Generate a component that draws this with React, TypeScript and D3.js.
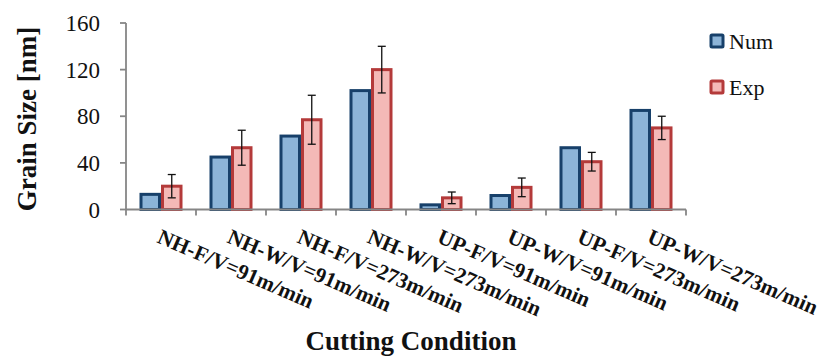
import React from 'react';
import * as d3 from 'd3';

const categories = [
  'NH-F/V=91m/min',
  'NH-W/V=91m/min',
  'NH-F/V=273m/min',
  'NH-W/V=273m/min',
  'UP-F/V=91m/min',
  'UP-W/V=91m/min',
  'UP-F/V=273m/min',
  'UP-W/V=273m/min'
];
const numValues = [13, 45, 63, 102, 4, 12, 53, 85];
const expValues = [20, 53, 77, 120, 10, 19, 41, 70];
const expErrors = [10, 15, 21, 20, 5, 8, 8, 10];
const yTicks = [0, 40, 80, 120, 160];
const seriesNames = ['Num', 'Exp'];

const WIDTH = 823;
const HEIGHT = 360;
const PLOT = { left: 126, right: 686, top: 23, bottom: 209.5 };
const COLORS = {
  Num: { fill: '#8cb4d8', stroke: '#17406a' },
  Exp: { fill: '#f4b9b7', stroke: '#b43a3a' }
};
const AXIS_COLOR = '#868686';
const FONT = '"Liberation Serif", "DejaVu Serif", serif';

export default function App() {
  const x0 = d3.scaleBand().domain(categories).range([PLOT.left, PLOT.right]).padding(0);
  const y = d3.scaleLinear().domain([0, 160]).range([PLOT.bottom, PLOT.top]);
  const pairWidth = 43;
  const x1 = d3.scaleBand().domain(seriesNames).range([0, pairWidth]).padding(0);
  const boundaries = [...categories.map(c => x0(c)), PLOT.right];

  const bars = categories.map((c, i) => {
    const left = x0(c) + x0.bandwidth() / 2 - pairWidth / 2;
    const vals = [numValues[i], expValues[i]];
    return (
      <g key={c} transform={`translate(${left},0)`}>
        {seriesNames.map((s, j) => (
          <rect
            key={s}
            x={x1(s) + 1.5}
            y={y(vals[j])}
            width={x1.bandwidth() - 3}
            height={y(0) - y(vals[j])}
            fill={COLORS[s].fill}
            stroke={COLORS[s].stroke}
            strokeWidth={3}
          />
        ))}
      </g>
    );
  });

  const errorBars = categories.map((c, i) => {
    const cx = x0(c) + x0.bandwidth() / 2 - pairWidth / 2 + x1('Exp') + x1.bandwidth() / 2;
    const hi = y(expValues[i] + expErrors[i]);
    const lo = y(expValues[i] - expErrors[i]);
    return (
      <g key={c} stroke="#111" strokeWidth={1.3}>
        <line x1={cx} x2={cx} y1={hi} y2={lo} />
        <line x1={cx - 4} x2={cx + 4} y1={hi} y2={hi} />
        <line x1={cx - 4} x2={cx + 4} y1={lo} y2={lo} />
      </g>
    );
  });

  return (
    <svg width={WIDTH} height={HEIGHT} style={{ position: 'absolute', left: 0, top: 0, background: '#fff' }}>
      {bars}
      {errorBars}
      <g stroke={AXIS_COLOR} strokeWidth={1.8}>
        <line x1={PLOT.left} x2={PLOT.left} y1={PLOT.top} y2={PLOT.bottom} />
        <line x1={PLOT.left} x2={PLOT.right} y1={PLOT.bottom} y2={PLOT.bottom} />
        {yTicks.map(t => (
          <line key={t} x1={PLOT.left - 6} x2={PLOT.left} y1={y(t)} y2={y(t)} />
        ))}
        {boundaries.map((b, i) => (
          <line key={i} x1={b} x2={b} y1={PLOT.bottom} y2={PLOT.bottom + 6} />
        ))}
      </g>
      <g fontFamily={FONT} fontSize={23} fill="#111" textAnchor="end">
        {yTicks.map(t => (
          <text key={t} x={100} y={y(t)} dy="0.35em">{t}</text>
        ))}
      </g>
      <g fontFamily={FONT} fontSize={21.5} fontWeight="bold" fill="#111">
        {categories.map(c => {
          const cx = x0(c) + x0.bandwidth() / 2 - 5;
          return (
            <text key={c} transform={`translate(${cx},242) rotate(23.5)`}>{c}</text>
          );
        })}
      </g>
      <text
        transform={`translate(36,119) rotate(-90)`}
        textAnchor="middle"
        fontFamily={FONT}
        fontSize={27}
        fontWeight="bold"
        fill="#111"
      >Grain Size [nm]</text>
      <text x={411} y={350} textAnchor="middle" fontFamily={FONT} fontSize={27} fontWeight="bold" fill="#111">
        Cutting Condition
      </text>
      <g fontFamily={FONT} fontSize={22} fill="#111">
        {seriesNames.map((s, i) => (
          <g key={s} transform={`translate(711,${41 + i * 46})`}>
            <rect x={0} y={-6} width={12} height={12} fill={COLORS[s].fill} stroke={COLORS[s].stroke} strokeWidth={3} rx={1} />
            <text x={18} y={0} dy="0.35em">{s}</text>
          </g>
        ))}
      </g>
    </svg>
  );
}
